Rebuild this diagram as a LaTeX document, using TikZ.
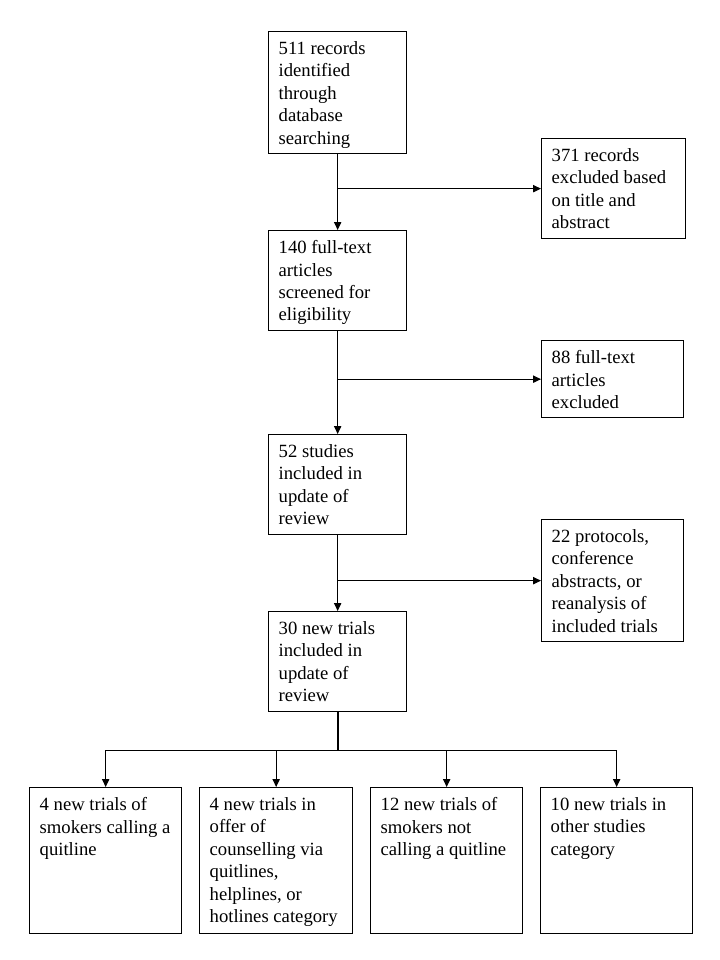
\documentclass[tikz,border=0pt]{standalone}
\usepackage{fontspec}
\setmainfont{Liberation Serif}
\usetikzlibrary{arrows.meta}

\tikzset{
  flow/.style 2 args={draw, line width=1pt, anchor=north west, inner xsep=7.5pt, inner ysep=7.4pt,
    font=\fontsize{14pt}{16.8pt}\selectfont,
    execute at begin node={\begin{minipage}[c][#2][t]{#1}\raggedright},
    execute at end node={\end{minipage}}},
  link/.style={line width=0.8pt, -{Triangle[length=6pt,width=5.5pt]}},
  trunk/.style={line width=1.7pt},
}

\begin{document}
\begin{tikzpicture}[x=0.75pt, y=-0.75pt]
  \useasboundingbox (0,0) rectangle (720,960);

  \node[flow={88.5pt}{76.7pt}] (rec) at (268,31) {511 records\\identified\\through\\database\\searching};
  \node[flow={93pt}{60.2pt}] (excl1) at (541,138) {371 records\\excluded based\\on title and\\abstract};
  \node[flow={88.5pt}{60.2pt}] (full) at (268,230) {140 full-text\\articles\\screened for\\eligibility};
  \node[flow={91.5pt}{42.95pt}] (excl2) at (541,340) {88 full-text\\articles\\excluded};
  \node[flow={88.5pt}{60.2pt}] (stud) at (268,434) {52 studies\\included in\\update of\\review};
  \node[flow={91.5pt}{76.7pt}] (excl3) at (541,519) {22 protocols,\\conference\\abstracts, or\\reanalysis of\\included trials};
  \node[flow={88.5pt}{60.2pt}] (trials) at (268,611) {30 new trials\\included in\\update of\\review};

  \node[flow={99pt}{94.7pt}] (b1) at (29,787) {4 new trials of\\smokers calling a\\quitline};
  \node[flow={99.75pt}{94.7pt}] (b2) at (199,787) {4 new trials in\\offer of\\counselling via\\quitlines,\\helplines, or\\hotlines category};
  \node[flow={99pt}{94.7pt}] (b3) at (370,787) {12 new trials of\\smokers not\\calling a quitline};
  \node[flow={99pt}{94.7pt}] (b4) at (540,787) {10 new trials in\\other studies\\category};

  \draw[link] (rec) -- (full);
  \draw[link] (full) -- (stud);
  \draw[link] (stud) -- (trials);
  \draw[link] (rec.south |- excl1.west) -- (excl1.west);
  \draw[link] (full.south |- excl2.west) -- (excl2.west);
  \draw[link] (stud.south |- excl3.west) -- (excl3.west);

  \coordinate (split) at ([yshift=-28.5pt]trials.south);
  \draw[trunk] (trials.south) -- (split);
  \foreach \b in {b1,b2,b3,b4}
    \draw[link] (split) -| (\b.north);
\end{tikzpicture}
\end{document}
